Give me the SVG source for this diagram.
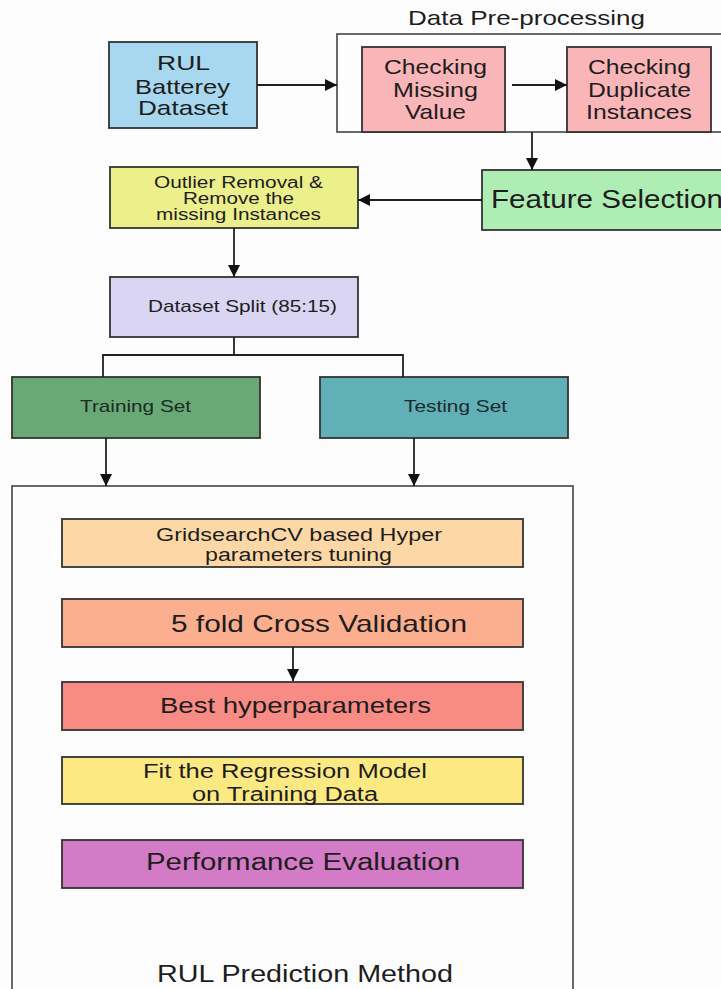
<svg xmlns="http://www.w3.org/2000/svg" width="721" height="989" viewBox="0 0 721 989">
<defs>
<marker id="ah" markerUnits="userSpaceOnUse" markerWidth="12" markerHeight="12" refX="12" refY="6" orient="auto">
<path d="M0,0 L12,6 L0,12 z" fill="#111"/>
</marker>
<style>
text{font-family:"Liberation Sans",Arial,sans-serif;fill:#1d1d1d}
.box{stroke:#333;stroke-width:1.8}
.cont{fill:none;stroke:#444;stroke-width:1.6}
.con{fill:none;stroke:#222;stroke-width:1.8}
.arr{fill:none;stroke:#222;stroke-width:1.8;marker-end:url(#ah)}
</style>
</defs>
<rect x="0" y="0" width="721" height="989" fill="#fdfdfd"/>

<g id="preprocessing">
<rect class="cont" x="337" y="34" width="390" height="98"/>
<text x="408" y="25" font-size="21" textLength="237" lengthAdjust="spacingAndGlyphs">Data Pre-processing</text>
</g>

<g id="rul-dataset">
<rect class="box" x="109" y="42" width="148" height="86" fill="#a8d8f0"/>
<text x="157" y="70" font-size="21" textLength="53" lengthAdjust="spacingAndGlyphs">RUL</text>
<text x="135" y="94" font-size="21" textLength="95" lengthAdjust="spacingAndGlyphs">Batterey</text>
<text x="138" y="115" font-size="21" textLength="90" lengthAdjust="spacingAndGlyphs">Dataset</text>
</g>

<g id="missing-value">
<rect class="box" x="362" y="47" width="143" height="85" fill="#fab5b8"/>
<text x="384" y="74" font-size="21" textLength="103" lengthAdjust="spacingAndGlyphs">Checking</text>
<text x="393" y="97" font-size="21" textLength="85" lengthAdjust="spacingAndGlyphs">Missing</text>
<text x="405" y="119" font-size="21" textLength="61" lengthAdjust="spacingAndGlyphs">Value</text>
</g>

<g id="duplicate">
<rect class="box" x="567" y="47" width="144" height="85" fill="#fab5b8"/>
<text x="588" y="74" font-size="21" textLength="103" lengthAdjust="spacingAndGlyphs">Checking</text>
<text x="588" y="97" font-size="21" textLength="103" lengthAdjust="spacingAndGlyphs">Duplicate</text>
<text x="586" y="119" font-size="21" textLength="106" lengthAdjust="spacingAndGlyphs">Instances</text>
</g>

<g id="feature-selection">
<rect class="box" x="482" y="170" width="250" height="60" fill="#aeeeb4"/>
<text x="491" y="208" font-size="25" textLength="232" lengthAdjust="spacingAndGlyphs">Feature Selection</text>
</g>

<g id="outlier">
<rect class="box" x="110" y="167" width="248" height="61" fill="#ecf08a"/>
<text x="154" y="188" font-size="16" textLength="169" lengthAdjust="spacingAndGlyphs">Outlier Removal &amp;</text>
<text x="183" y="204" font-size="16" textLength="111" lengthAdjust="spacingAndGlyphs">Remove the</text>
<text x="156" y="220" font-size="16" textLength="165" lengthAdjust="spacingAndGlyphs">missing Instances</text>
</g>

<g id="split">
<rect class="box" x="110" y="277" width="248" height="60" fill="#d9d5f2"/>
<text x="148" y="312" font-size="17" textLength="189" lengthAdjust="spacingAndGlyphs">Dataset Split (85:15)</text>
</g>

<g id="training">
<rect class="box" x="12" y="377" width="248" height="61" fill="#69a977"/>
<text x="80" y="412" font-size="17" textLength="111" lengthAdjust="spacingAndGlyphs" style="fill:#1b2b20">Training Set</text>
</g>

<g id="testing">
<rect class="box" x="320" y="377" width="248" height="61" fill="#61afb7"/>
<text x="404" y="412" font-size="17" textLength="103" lengthAdjust="spacingAndGlyphs" style="fill:#1b2b2b">Testing Set</text>
</g>

<g id="prediction">
<rect class="cont" x="12" y="486" width="561" height="520"/>
<text x="157" y="982" font-size="23" textLength="296" lengthAdjust="spacingAndGlyphs">RUL Prediction Method</text>
</g>

<g id="gridsearch">
<rect class="box" x="62" y="519" width="461" height="48" fill="#fdd8a6"/>
<text x="156" y="541" font-size="18" textLength="286" lengthAdjust="spacingAndGlyphs">GridsearchCV based Hyper</text>
<text x="205" y="561" font-size="18" textLength="187" lengthAdjust="spacingAndGlyphs">parameters tuning</text>
</g>

<g id="crossval">
<rect class="box" x="62" y="599" width="461" height="48" fill="#fbaf8f"/>
<text x="171" y="632" font-size="24" textLength="296" lengthAdjust="spacingAndGlyphs">5 fold Cross Validation</text>
</g>

<g id="best">
<rect class="box" x="62" y="682" width="461" height="48" fill="#f88c84"/>
<text x="160" y="713" font-size="22" textLength="271" lengthAdjust="spacingAndGlyphs">Best hyperparameters</text>
</g>

<g id="fit">
<rect class="box" x="62" y="757" width="461" height="47" fill="#fce982"/>
<text x="143" y="778" font-size="20" textLength="284" lengthAdjust="spacingAndGlyphs">Fit the Regression Model</text>
<text x="192" y="801" font-size="20" textLength="186" lengthAdjust="spacingAndGlyphs">on Training Data</text>
</g>

<g id="performance">
<rect class="box" x="62" y="840" width="461" height="48" fill="#d37bc6"/>
<text x="146" y="870" font-size="23" textLength="314" lengthAdjust="spacingAndGlyphs">Performance Evaluation</text>
</g>

<g id="connectors">
<line class="arr" x1="257" y1="85" x2="337" y2="85"/>
<line class="arr" x1="512" y1="85" x2="567" y2="85"/>
<line class="arr" x1="532" y1="132" x2="532" y2="170"/>
<line class="arr" x1="482" y1="200" x2="358" y2="200"/>
<line class="arr" x1="234" y1="228" x2="234" y2="277"/>
<polyline class="con" points="103,377 103,355 403,355 403,377"/>
<line class="con" x1="234" y1="337" x2="234" y2="355"/>
<line class="arr" x1="106" y1="438" x2="106" y2="486"/>
<line class="arr" x1="414" y1="438" x2="414" y2="486"/>
<line class="arr" x1="293" y1="647" x2="293" y2="681"/>
</g>
</svg>
